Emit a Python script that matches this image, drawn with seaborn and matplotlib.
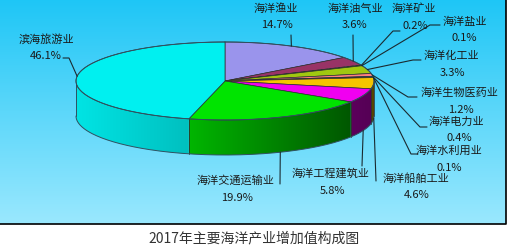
import numpy as np
import matplotlib
matplotlib.use("Agg")
import matplotlib.pyplot as plt
import seaborn as sns
from matplotlib.colors import to_rgb
from matplotlib.patches import Polygon

# ---------------- data ----------------
industries = ["海洋渔业", "海洋油气业", "海洋矿业", "海洋盐业", "海洋化工业",
              "海洋生物医药业", "海洋电力业", "海洋水利用业", "海洋船舶工业",
              "海洋工程建筑业", "海洋交通运输业", "滨海旅游业"]
shares = [14.7, 3.6, 0.2, 0.1, 3.3, 1.2, 0.4, 0.1, 4.6, 5.8, 19.9, 46.1]
title = "2017年主要海洋产业增加值构成图"

# ---------------- styles / layout ----------------
colors = ["#9a94ec", "#993366", "#ffffcc", "#ccffff", "#a0c810", "#ff8080",
          "#0066cc", "#ccccff", "#f5c400", "#f000f0", "#00e400", "#00f0f0"]
W, H = 511, 251
PANEL_R, PANEL_B = 506, 225
CX, CY, RX, RY, DEPTH = 225, 82, 149, 39, 35
# label layout: name centre x, name y, pct centre x, pct y, leader end x, end y, tick
label_layout = [
    (276, 9, 277, 25, 291, 36, 0),
    (355, 9, 354, 25, 353, 36, 0),
    (414, 9, 415, 26, 393, 32, 7),
    (465, 22, 464, 38, 430, 26, 10),
    (451, 56, 452, 73, 413, 61, 8),
    (460, 93, 461, 110, 408, 98, 9),
    (456, 122, 459, 138, 420, 128, 7),
    (449, 151, 449, 168, 411, 155, 7),
    (416, 179, 417, 195, 376, 182, 0),
    (331, 173, 332, 191, 362, 167, 0),
    (236, 181, 237, 198, 280, 185, 0),
    (46, 39, 46, 56, 69, 59, -6),
]

sns.set_theme(style="white")
plt.rcParams["font.family"] = ["Noto Sans CJK SC", "DejaVu Sans"]

fig = plt.figure(figsize=(W / 100, H / 100), dpi=100, facecolor="white")
ax = fig.add_axes([0, 0, 1, 1])
ax.set_xlim(0, W)
ax.set_ylim(H, 0)
ax.axis("off")

# background gradient panel
top_c = np.array(to_rgb("#1ec6f6"))
bot_c = np.array(to_rgb("#9ae8fe"))
t = np.linspace(0, 1, 256)[:, None, None]
grad = top_c[None, None, :] * (1 - t) + bot_c[None, None, :] * t
ax.imshow(grad, extent=(0, PANEL_R, PANEL_B, 0), aspect="auto", zorder=0)
ax.plot([0, PANEL_R, PANEL_R], [PANEL_B, PANEL_B, 0], color="black", lw=1.2, zorder=1)


def rim(theta_deg):
    th = np.radians(theta_deg)
    return CX + RX * np.sin(th), CY - RY * np.cos(th)


fracs = np.array(shares) / np.sum(shares)
bounds = np.concatenate([[0], np.cumsum(fracs)]) * 360.0


def shade(s):
    return np.interp(s, [-1, -0.25, 0.85, 1], [0.95, 0.8, 0.38, 0.35])


# side faces (front half: 90..270 degrees), smooth horizontal gradient
for i, col in enumerate(colors):
    a0, a1 = max(bounds[i], 90), min(bounds[i + 1], 270)
    if a1 <= a0:
        continue
    ts = np.linspace(a0, a1, max(2, int((a1 - a0) / 0.5)) + 1)
    xs, ys = rim(ts)
    pts = list(zip(xs, ys)) + list(zip(xs[::-1], ys[::-1] + DEPTH))
    poly = Polygon(pts, closed=True, facecolor="none", edgecolor="none", zorder=2)
    ax.add_patch(poly)
    x_lo, x_hi = xs.min() - 1, xs.max() + 1
    y_lo, y_hi = ys.min() - 1, ys.max() + DEPTH + 1
    gx = np.linspace(x_lo, x_hi, 200)
    base = np.array(to_rgb(col))
    img = np.clip(base[None, :] * shade((gx - CX) / RX)[:, None], 0, 1)[None, :, :]
    im = ax.imshow(img, extent=(x_lo, x_hi, y_hi, y_lo), aspect="auto",
                   interpolation="bilinear", zorder=2)
    im.set_clip_path(poly)

for b in bounds[1:-1]:
    if 90 < b < 270:
        bx, by = rim(b)
        ax.plot([bx, bx], [by, by + DEPTH], color="#303030", lw=0.6, zorder=3)
tt = np.linspace(90, 270, 200)
bx, by = rim(tt)
ax.plot(bx, by + DEPTH, color="#305060", lw=0.7, zorder=3)
ax.plot([CX + RX, CX + RX], [CY, CY + DEPTH], color="#305060", lw=0.7, zorder=3)
ax.plot([CX - RX, CX - RX], [CY, CY + DEPTH], color="#305060", lw=0.7, zorder=3)

# top faces
for i, col in enumerate(colors):
    ts = np.linspace(bounds[i], bounds[i + 1], max(2, int((bounds[i + 1] - bounds[i]) / 0.5)) + 1)
    xs, ys = rim(ts)
    pts = [(CX, CY)] + list(zip(xs, ys))
    ax.add_patch(Polygon(pts, closed=True, facecolor=col, edgecolor="#303030", lw=0.5, zorder=4))
tt = np.linspace(0, 360, 400)
ex, ey = rim(tt)
ax.plot(ex, ey, color="#305060", lw=0.7, zorder=5)

# labels and leader lines
for i, (name, v) in enumerate(zip(industries, shares)):
    nx, ny, px, py, lx, ly, tick = label_layout[i]
    mid = (bounds[i] + bounds[i + 1]) / 2
    sx, sy = rim(mid)
    if np.cos(np.radians(mid)) < 0:
        sy = sy + DEPTH
    xs = [sx, lx] + ([lx + tick] if tick else [])
    ys = [sy, ly] + ([ly] if tick else [])
    sns.lineplot(x=xs, y=ys, sort=False, estimator=None, color="#1a2a30", lw=0.8, ax=ax, zorder=6)
    ax.text(nx, ny, name, ha="center", va="center", fontsize=8, color="#1a1a1a", zorder=7)
    ax.text(px, py, f"{v:.1f}%", ha="center", va="center", fontsize=8, color="#1a1a1a", zorder=7)

ax.text(254, 238, title, ha="center", va="center", fontsize=10, color="#333333")

ax.set_xlim(0, W)
ax.set_ylim(H, 0)
ax.axis("off")
fig.savefig("out.png", dpi=100, facecolor="white")
